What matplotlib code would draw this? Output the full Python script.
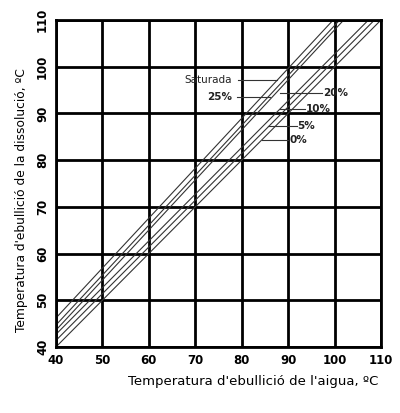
import matplotlib
matplotlib.use("Agg")
import matplotlib.pyplot as plt

plt.rcParams["font.family"] = ["DejaVu Sans"]

# ── Data: boiling point of solution vs boiling point of water (Dühring lines) ──
water_temp = [40, 110]
series_names = ["Saturada", "25%", "20%", "10%", "5%", "0%"]
sol_temp = {
    "Saturada": [46.2, 121.0],
    "25%":      [44.7, 119.5],
    "20%":      [43.6, 118.6],
    "10%":      [42.7, 112.7],
    "5%":       [41.4, 111.4],
    "0%":       [40.0, 110.0],
}

ticks = [40, 50, 60, 70, 80, 90, 100, 110]

# label text position (x, y) and leader line (x_start, x_end, y)
labels = {
    "Saturada": dict(text=(77.9, 97.1), leader=(79.2, 87.6, 97.1), ha="right", bold=False),
    "25%":      dict(text=(77.9, 93.5), leader=(78.9, 86.1, 93.5), ha="right", bold=True),
    "20%":      dict(text=(97.5, 94.3), leader=(88.2, 97.2, 94.3), ha="left",  bold=True),
    "10%":      dict(text=(93.8, 91.0), leader=(88.2, 93.6, 91.0), ha="left",  bold=True),
    "5%":       dict(text=(92.0, 87.4), leader=(85.7, 91.8, 87.4), ha="left",  bold=True),
    "0%":       dict(text=(90.2, 84.3), leader=(84.3, 90.0, 84.3), ha="left",  bold=True),
}

fig = plt.figure(figsize=(4.0, 4.13), dpi=100)
ax = fig.add_axes([0.14, 0.16, 0.8125, 0.7916])

for name in series_names:
    ax.plot(water_temp, sol_temp[name], color="#333333", lw=0.8, zorder=2)

for name, lab in labels.items():
    x0, x1, yl = lab["leader"]
    ax.plot([x0, x1], [yl, yl], color="#333333", lw=0.8, zorder=2)
    ax.text(lab["text"][0], lab["text"][1], name, ha=lab["ha"], va="center",
            fontsize=7.5, fontweight="bold" if lab["bold"] else "normal",
            color="#222222", zorder=4)

ax.set_xlim(40, 110)
ax.set_ylim(40, 110)
ax.set_xticks(ticks)
ax.set_yticks(ticks)
ax.grid(True, color="black", lw=2.0, zorder=1)
ax.set_axisbelow(True)
for sp in ax.spines.values():
    sp.set_linewidth(2.0)

ax.tick_params(length=0, pad=5, labelsize=8.5)
for lbl in ax.get_xticklabels():
    lbl.set_fontweight("bold")
for lbl in ax.get_yticklabels():
    lbl.set_fontweight("bold")
    lbl.set_rotation(90)
    lbl.set_va("center")

ax.set_xlabel("Temperatura d'ebullició de l'aigua, ºC", fontsize=9.5, va="center")
ax.xaxis.set_label_coords(0.606, -0.107)
ax.set_ylabel("Temperatura d'ebullició de la dissolució, ºC", fontsize=8.8, va="center")
ax.yaxis.set_label_coords(-0.105, 0.45)

fig.savefig("out.png", dpi=100)
